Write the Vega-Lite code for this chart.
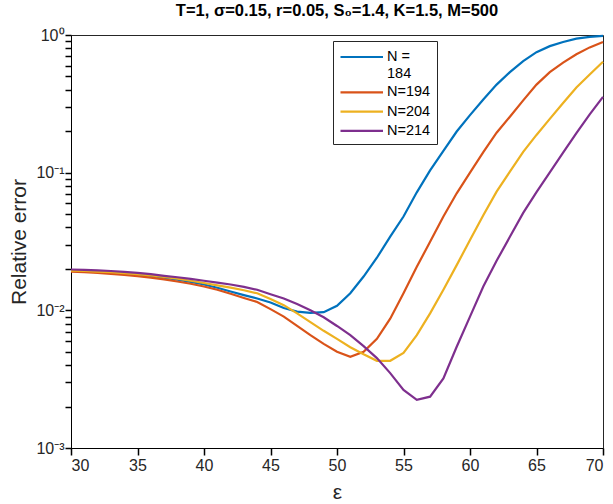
{
  "$schema": "https://vega.github.io/schema/vega-lite/v6.json",
  "autosize": {"type": "none"},
  "padding": {"left": 71, "top": 35, "right": 10, "bottom": 56},
  "width": 532,
  "height": 413,
  "background": "white",
  "title": {"text": "T=1, σ=0.15, r=0.05, S₀=1.4, K=1.5, M=500", "fontSize": 16.5, "fontWeight": "bold", "color": "#000000", "anchor": "middle", "offset": 8, "font": "Liberation Sans"},
  "config": {"font": "Liberation Sans", "view": {"stroke": "#262626", "strokeWidth": 1}},
  "data": {"values": [
    {"eps":30,"err":0.0196,"N":"184"},{"eps":31,"err":0.0194,"N":"184"},{"eps":32,"err":0.0192,"N":"184"},{"eps":33,"err":0.0189,"N":"184"},{"eps":34,"err":0.0186,"N":"184"},{"eps":35,"err":0.0182,"N":"184"},{"eps":36,"err":0.0178,"N":"184"},{"eps":37,"err":0.0173,"N":"184"},{"eps":38,"err":0.0167,"N":"184"},{"eps":39,"err":0.0161,"N":"184"},{"eps":40,"err":0.0154,"N":"184"},{"eps":41,"err":0.0146,"N":"184"},{"eps":42,"err":0.0137,"N":"184"},{"eps":43,"err":0.0129,"N":"184"},{"eps":44,"err":0.0122,"N":"184"},{"eps":45,"err":0.0114,"N":"184"},{"eps":46,"err":0.0104,"N":"184"},{"eps":47,"err":0.0098,"N":"184"},{"eps":48,"err":0.0096,"N":"184"},{"eps":49,"err":0.0097,"N":"184"},{"eps":50,"err":0.0108,"N":"184"},{"eps":51,"err":0.0133,"N":"184"},{"eps":52,"err":0.0176,"N":"184"},{"eps":53,"err":0.0241,"N":"184"},{"eps":54,"err":0.0343,"N":"184"},{"eps":55,"err":0.048,"N":"184"},{"eps":56,"err":0.072,"N":"184"},{"eps":57,"err":0.104,"N":"184"},{"eps":58,"err":0.144,"N":"184"},{"eps":59,"err":0.199,"N":"184"},{"eps":60,"err":0.262,"N":"184"},{"eps":61,"err":0.34,"N":"184"},{"eps":62,"err":0.436,"N":"184"},{"eps":63,"err":0.537,"N":"184"},{"eps":64,"err":0.646,"N":"184"},{"eps":65,"err":0.75,"N":"184"},{"eps":66,"err":0.83,"N":"184"},{"eps":67,"err":0.89,"N":"184"},{"eps":68,"err":0.94,"N":"184"},{"eps":69,"err":0.97,"N":"184"},{"eps":70,"err":0.985,"N":"184"},
    {"eps":30,"err":0.0191,"N":"194"},{"eps":31,"err":0.0189,"N":"194"},{"eps":32,"err":0.0187,"N":"194"},{"eps":33,"err":0.0184,"N":"194"},{"eps":34,"err":0.0181,"N":"194"},{"eps":35,"err":0.0177,"N":"194"},{"eps":36,"err":0.0173,"N":"194"},{"eps":37,"err":0.0168,"N":"194"},{"eps":38,"err":0.0162,"N":"194"},{"eps":39,"err":0.0156,"N":"194"},{"eps":40,"err":0.0149,"N":"194"},{"eps":41,"err":0.0141,"N":"194"},{"eps":42,"err":0.0132,"N":"194"},{"eps":43,"err":0.0123,"N":"194"},{"eps":44,"err":0.0115,"N":"194"},{"eps":45,"err":0.0102,"N":"194"},{"eps":46,"err":0.0090,"N":"194"},{"eps":47,"err":0.0077,"N":"194"},{"eps":48,"err":0.0066,"N":"194"},{"eps":49,"err":0.0057,"N":"194"},{"eps":50,"err":0.0050,"N":"194"},{"eps":51,"err":0.0046,"N":"194"},{"eps":52,"err":0.0050,"N":"194"},{"eps":53,"err":0.0062,"N":"194"},{"eps":54,"err":0.0087,"N":"194"},{"eps":55,"err":0.0133,"N":"194"},{"eps":56,"err":0.0207,"N":"194"},{"eps":57,"err":0.0315,"N":"194"},{"eps":58,"err":0.048,"N":"194"},{"eps":59,"err":0.0708,"N":"194"},{"eps":60,"err":0.100,"N":"194"},{"eps":61,"err":0.141,"N":"194"},{"eps":62,"err":0.195,"N":"194"},{"eps":63,"err":0.255,"N":"194"},{"eps":64,"err":0.335,"N":"194"},{"eps":65,"err":0.436,"N":"194"},{"eps":66,"err":0.537,"N":"194"},{"eps":67,"err":0.63,"N":"194"},{"eps":68,"err":0.724,"N":"194"},{"eps":69,"err":0.813,"N":"194"},{"eps":70,"err":0.89,"N":"194"},
    {"eps":30,"err":0.0194,"N":"204"},{"eps":31,"err":0.0193,"N":"204"},{"eps":32,"err":0.0191,"N":"204"},{"eps":33,"err":0.0189,"N":"204"},{"eps":34,"err":0.0186,"N":"204"},{"eps":35,"err":0.0183,"N":"204"},{"eps":36,"err":0.0179,"N":"204"},{"eps":37,"err":0.0175,"N":"204"},{"eps":38,"err":0.0170,"N":"204"},{"eps":39,"err":0.0164,"N":"204"},{"eps":40,"err":0.0158,"N":"204"},{"eps":41,"err":0.0152,"N":"204"},{"eps":42,"err":0.0146,"N":"204"},{"eps":43,"err":0.0140,"N":"204"},{"eps":44,"err":0.0133,"N":"204"},{"eps":45,"err":0.0121,"N":"204"},{"eps":46,"err":0.0109,"N":"204"},{"eps":47,"err":0.0095,"N":"204"},{"eps":48,"err":0.0082,"N":"204"},{"eps":49,"err":0.0071,"N":"204"},{"eps":50,"err":0.0062,"N":"204"},{"eps":51,"err":0.0054,"N":"204"},{"eps":52,"err":0.0048,"N":"204"},{"eps":53,"err":0.0043,"N":"204"},{"eps":54,"err":0.0043,"N":"204"},{"eps":55,"err":0.0049,"N":"204"},{"eps":56,"err":0.0066,"N":"204"},{"eps":57,"err":0.0095,"N":"204"},{"eps":58,"err":0.0141,"N":"204"},{"eps":59,"err":0.0213,"N":"204"},{"eps":60,"err":0.0324,"N":"204"},{"eps":61,"err":0.049,"N":"204"},{"eps":62,"err":0.0728,"N":"204"},{"eps":63,"err":0.1016,"N":"204"},{"eps":64,"err":0.1416,"N":"204"},{"eps":65,"err":0.188,"N":"204"},{"eps":66,"err":0.246,"N":"204"},{"eps":67,"err":0.321,"N":"204"},{"eps":68,"err":0.416,"N":"204"},{"eps":69,"err":0.516,"N":"204"},{"eps":70,"err":0.64,"N":"204"},
    {"eps":30,"err":0.0198,"N":"214"},{"eps":31,"err":0.0197,"N":"214"},{"eps":32,"err":0.0195,"N":"214"},{"eps":33,"err":0.0193,"N":"214"},{"eps":34,"err":0.0190,"N":"214"},{"eps":35,"err":0.0187,"N":"214"},{"eps":36,"err":0.0183,"N":"214"},{"eps":37,"err":0.0178,"N":"214"},{"eps":38,"err":0.0174,"N":"214"},{"eps":39,"err":0.0169,"N":"214"},{"eps":40,"err":0.0164,"N":"214"},{"eps":41,"err":0.0159,"N":"214"},{"eps":42,"err":0.0154,"N":"214"},{"eps":43,"err":0.0148,"N":"214"},{"eps":44,"err":0.0141,"N":"214"},{"eps":45,"err":0.0131,"N":"214"},{"eps":46,"err":0.0122,"N":"214"},{"eps":47,"err":0.0111,"N":"214"},{"eps":48,"err":0.0100,"N":"214"},{"eps":49,"err":0.0089,"N":"214"},{"eps":50,"err":0.0077,"N":"214"},{"eps":51,"err":0.0066,"N":"214"},{"eps":52,"err":0.0055,"N":"214"},{"eps":53,"err":0.0045,"N":"214"},{"eps":54,"err":0.0035,"N":"214"},{"eps":55,"err":0.00264,"N":"214"},{"eps":56,"err":0.00224,"N":"214"},{"eps":57,"err":0.00236,"N":"214"},{"eps":58,"err":0.0032,"N":"214"},{"eps":59,"err":0.00544,"N":"214"},{"eps":60,"err":0.009,"N":"214"},{"eps":61,"err":0.0149,"N":"214"},{"eps":62,"err":0.0229,"N":"214"},{"eps":63,"err":0.0342,"N":"214"},{"eps":64,"err":0.051,"N":"214"},{"eps":65,"err":0.0722,"N":"214"},{"eps":66,"err":0.1005,"N":"214"},{"eps":67,"err":0.14,"N":"214"},{"eps":68,"err":0.194,"N":"214"},{"eps":69,"err":0.265,"N":"214"},{"eps":70,"err":0.355,"N":"214"}
  ]},
  "mark": {"type": "line", "strokeWidth": 2.2},
  "encoding": {
    "x": {"field": "eps", "type": "quantitative", "scale": {"domain": [30, 70], "nice": false, "zero": false},
          "axis": {"values": [30,35,40,45,50,55,60,65,70], "domainColor": "black", "gridOpacity": 0, "tickSize": 7, "tickColor": "black", "tickWidth": 1.5,
                   "labelPadding": 2, "labelFontSize": 16, "labelColor": "#262626", "labelFont": "Liberation Sans",
                   "title": "ε", "titleFontSize": 21, "titleFontWeight": "normal", "titleColor": "#262626", "titleFont": "Liberation Sans", "titlePadding": 8}},
    "y": {"field": "err", "type": "quantitative", "scale": {"type": "log", "domain": [0.001, 1], "nice": false},
          "axis": {"values": [0.001,0.002,0.003,0.004,0.005,0.006,0.007,0.008,0.009,0.01,0.02,0.03,0.04,0.05,0.06,0.07,0.08,0.09,0.1,0.2,0.3,0.4,0.5,0.6,0.7,0.8,0.9,1],
                   "domainColor": "black", "gridOpacity": 0, "tickColor": "black", "tickWidth": 1.5, "tickSize": 6,
                   "labelPadding": 1, "labelFontSize": 16, "labelColor": "#262626", "labelFont": "Liberation Sans",
                   "labelExpr": "datum.value == 1 ? '10⁰' : datum.value == 0.1 ? '10⁻¹' : datum.value == 0.01 ? '10⁻²' : datum.value == 0.001 ? '10⁻³' : ''",
                   "title": "Relative error", "titleFontSize": 21, "titleFontWeight": "normal", "titleColor": "#262626", "titleFont": "Liberation Sans", "titlePadding": 6}},
    "color": {"field": "N", "type": "nominal",
              "scale": {"domain": ["184", "194", "204", "214"], "range": ["#0072BD", "#D95319", "#EDB120", "#7E2F8E"]},
              "legend": {"orient": "none", "legendX": 262, "legendY": 6, "title": null, "symbolType": "M-1,0H4", "symbolSize": 289, "symbolStrokeWidth": 2.2, "symbolFillColor": "transparent",
                         "labelFontSize": 14.5, "labelFont": "Liberation Sans", "labelColor": "#000000", "labelOffset": 28, "strokeColor": "#262626", "fillColor": "white", "padding": 6, "rowPadding": 2.3,
                         "labelExpr": "datum.label == '184' ? ['N =', '184'] : 'N=' + datum.label"}}
  }
}
